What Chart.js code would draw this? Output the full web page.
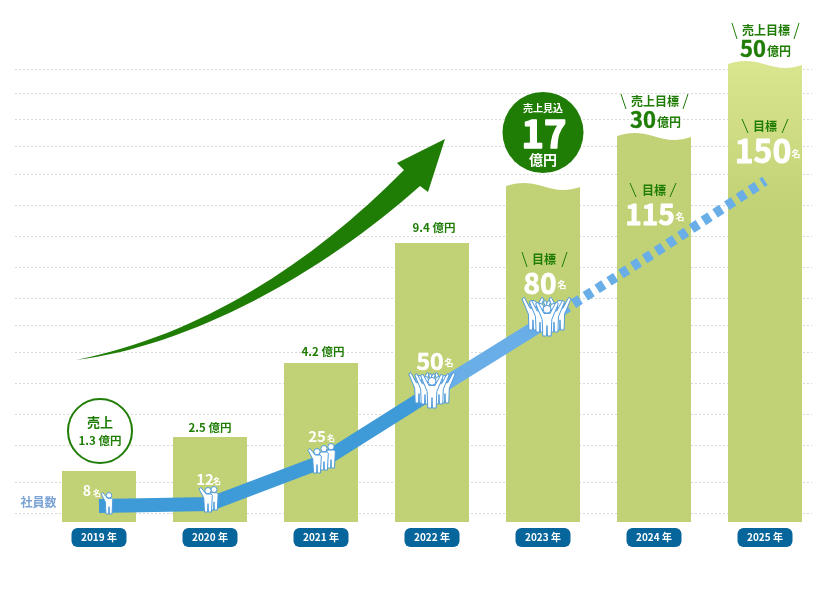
<!DOCTYPE html>
<html lang="ja">
<head>
<meta charset="utf-8">
<title>売上と社員数の推移</title>
<script src="https://cdn.jsdelivr.net/npm/chart.js@4"></script>
<style>
	html, body { margin: 0; padding: 0; background: #fff; }
	canvas { display: block; }
</style>
</head>
<body>
<canvas id="growthChart" width="830" height="590"></canvas>
<script>
"use strict";

// values
var years = ["2019 年", "2020 年", "2021 年", "2022 年", "2023 年", "2024 年", "2025 年"];
var salesOku = ["1.3", "2.5", "4.2", "9.4", "17", "30", "50"];
var staffCount = ["8", "12", "25", "50", "80", "115", "150"];
// the bars and the staff line are not to scale with the numbers, so their heights are read separately
var barLevels = [51, 85, 159, 279, 339, 389, 461];
var staffLevels = [16, 18, 60, 130, 199, 269, 341];
var gridLevels = [453, 429, 403, 376, 348, 317, 286, 255, 224, 197, 170, 139, 108, 77, 40, 9];

var GREEN = "#1f7d06";
var FONT = '"Noto Sans CJK JP", "Noto Sans", sans-serif';

function txt(ctx, str, x, y, size, color, heavy) {
	ctx.font = "bold " + size + "px " + FONT;
	ctx.fillStyle = color;
	ctx.textAlign = "center";
	ctx.textBaseline = "middle";
	ctx.fillText(str, x, y);
	if (heavy) {
		ctx.strokeStyle = color;
		ctx.lineWidth = heavy;
		ctx.lineJoin = "round";
		ctx.strokeText(str, x, y);
	}
}

function slashes(ctx, x, y, half, h, lean) {
	ctx.strokeStyle = GREEN;
	ctx.lineWidth = 1;
	ctx.beginPath();
	ctx.moveTo(x - half, y - h / 2);
	ctx.lineTo(x - half + lean, y + h / 2);
	ctx.moveTo(x + half, y - h / 2);
	ctx.lineTo(x + half - lean, y + h / 2);
	ctx.stroke();
}

// little white figure, x/y is between the feet
function person(ctx, x, y, s, pose) {
	ctx.save();
	ctx.translate(x, y);
	ctx.scale(s, s);
	ctx.fillStyle = "#fff";
	ctx.strokeStyle = "#4f9bdc";
	ctx.lineWidth = 1 / s;
	ctx.lineJoin = "round";
	ctx.beginPath();
	if (pose === "cheer") {
		ctx.moveTo(-2, -15);
		ctx.lineTo(-6, -22.5);
		ctx.lineTo(-7.6, -21.6);
		ctx.lineTo(-3.2, -11);
		ctx.lineTo(-2.8, 0);
		ctx.lineTo(-0.3, 0);
		ctx.lineTo(0, -7);
		ctx.lineTo(0.3, 0);
		ctx.lineTo(2.8, 0);
		ctx.lineTo(3.2, -11);
		ctx.lineTo(7.6, -21.6);
		ctx.lineTo(6, -22.5);
		ctx.lineTo(2, -15);
	} else {
		if (pose === "wave") {
			ctx.moveTo(-1.5, -15);
			ctx.lineTo(-6, -20.5);
			ctx.lineTo(-7.4, -19);
			ctx.lineTo(-3.5, -11.5);
		} else {
			ctx.moveTo(-2.5, -15);
			ctx.lineTo(-3.6, -14);
		}
		ctx.lineTo(-2.9, 0);
		ctx.lineTo(-0.3, 0);
		ctx.lineTo(0, -7);
		ctx.lineTo(0.3, 0);
		ctx.lineTo(2.9, 0);
		ctx.lineTo(3.6, -14);
		ctx.lineTo(2.5, -15);
	}
	ctx.closePath();
	ctx.fill();
	ctx.stroke();
	ctx.beginPath();
	ctx.arc(0, -17.8, 2.6, 0, Math.PI * 2);
	ctx.fill();
	ctx.stroke();
	ctx.restore();
}

// figures per year: dx, dy from the line point, scale (back ones first)
var crews = [
	[[10, 8, 1.05, "wave"]],
	[[4, 6, 1.15, "stand"], [-2, 8, 1.2, "wave"]],
	[[10, 6, 1.2, "stand"], [3, 8, 1.2, "stand"], [-4, 11, 1.2, "wave"]],
	[[13, 11, 1.35, "cheer"], [-13, 11, 1.35, "cheer"], [7, 12, 1.35, "cheer"], [-7, 12, 1.35, "cheer"], [0, 16, 1.5, "cheer"]],
	[[17, 7, 1.45, "cheer"], [-10, 7, 1.45, "cheer"], [11, 9, 1.4, "cheer"], [-3, 9, 1.4, "cheer"], [4, 13, 1.5, "cheer"]]
];

var decoration = {
	id: "decoration",

	beforeDraw: function (chart) {
		var ctx = chart.ctx, y = chart.scales.y, x = chart.scales.x;
		ctx.save();
		// dotted guide lines
		ctx.strokeStyle = "#d9d9d9";
		ctx.lineWidth = 1;
		ctx.setLineDash([2, 2]);
		gridLevels.forEach(function (lv) {
			var py = Math.round(y.getPixelForValue(lv)) + 0.5;
			ctx.beginPath();
			ctx.moveTo(15, py);
			ctx.lineTo(812, py);
			ctx.stroke();
		});
		ctx.setLineDash([]);
		// year pills under the tick labels
		years.forEach(function (yr, i) {
			ctx.fillStyle = "#06659b";
			ctx.beginPath();
			ctx.roundRect(x.getPixelForTick(i) - 27.5, 528, 55, 19, 6);
			ctx.fill();
		});
		// big arrow
		ctx.fillStyle = GREEN;
		ctx.beginPath();
		ctx.moveTo(76, 360);
		ctx.bezierCurveTo(200, 335, 310, 265, 404, 170);
		ctx.lineTo(397, 163);
		ctx.lineTo(445, 139);
		ctx.lineTo(428, 192);
		ctx.lineTo(420, 186);
		ctx.bezierCurveTo(320, 275, 190, 346, 76, 360);
		ctx.closePath();
		ctx.fill();
		ctx.restore();
	},

	// wavy tops of the three forecast bars
	beforeDatasetDraw: function (chart, args) {
		if (args.index !== 0) return;
		var ctx = chart.ctx;
		ctx.save();
		ctx.beginPath();
		args.meta.data.forEach(function (bar, i) {
			var l = bar.x - bar.width / 2, r = bar.x + bar.width / 2, t = bar.y, b = bar.base;
			if (i < 4) {
				ctx.rect(l, t, r - l, b - t);
				return;
			}
			ctx.moveTo(l, b);
			ctx.lineTo(l, t + 3);
			ctx.bezierCurveTo(l + 12, t - 1, l + 23, t - 1, l + 36, t + 3);
			ctx.bezierCurveTo(l + 48, t + 7, l + 60, t + 9, r, t + 4);
			ctx.lineTo(r, b);
			ctx.closePath();
		});
		ctx.clip();
	},
	afterDatasetDraw: function (chart, args) {
		if (args.index === 0) chart.ctx.restore();
	},

	afterDatasetsDraw: function (chart) {
		var ctx = chart.ctx;
		var bars = chart.getDatasetMeta(0).data;
		var pts = chart.getDatasetMeta(1).data;
		ctx.save();

		crews.forEach(function (crew, i) {
			crew.forEach(function (p) {
				person(ctx, pts[i].x + p[0], pts[i].y + p[1], p[2], p[3]);
			});
		});

		// staff numbers
		txt(ctx, staffCount[0], bars[0].x - 12, 491, 14, "#fff");
		txt(ctx, "名", bars[0].x - 2, 493, 8, "#fff");
		txt(ctx, staffCount[1], bars[1].x - 5, 479, 15, "#fff");
		txt(ctx, "名", bars[1].x + 7, 481, 8, "#fff");
		txt(ctx, staffCount[2], bars[2].x - 4, 436, 15, "#fff");
		txt(ctx, "名", bars[2].x + 10, 438, 8, "#fff");
		txt(ctx, staffCount[3], bars[3].x - 2, 361, 23, "#fff", 0.6);
		txt(ctx, "名", bars[3].x + 17, 363, 9, "#fff");
		txt(ctx, staffCount[4], bars[4].x - 3, 283, 28, "#fff", 0.8);
		txt(ctx, "名", bars[4].x + 19, 285, 9, "#fff");
		txt(ctx, staffCount[5], bars[5].x - 4, 214, 28, "#fff", 0.8);
		txt(ctx, "名", bars[5].x + 26, 217, 9, "#fff");
		txt(ctx, staffCount[6], bars[6].x - 2, 151, 32, "#fff", 0.8);
		txt(ctx, "名", bars[6].x + 31, 154, 9, "#fff");

		// 目標 tags
		txt(ctx, "目標", bars[4].x + 1, 259, 12, GREEN);
		slashes(ctx, bars[4].x + 1.5, 259.5, 22.5, 15, 5);
		txt(ctx, "目標", bars[5].x, 190, 12, GREEN);
		slashes(ctx, bars[5].x - 1, 190, 23, 14, 6);
		txt(ctx, "目標", bars[6].x, 126, 12, GREEN);
		slashes(ctx, bars[6].x, 126, 23, 14, 6);

		// sales, first year in an outlined circle
		ctx.strokeStyle = GREEN;
		ctx.fillStyle = "#fff";
		ctx.lineWidth = 2;
		ctx.beginPath();
		ctx.arc(bars[0].x + 1, 431, 32, 0, Math.PI * 2);
		ctx.fill();
		ctx.stroke();
		txt(ctx, "売上", bars[0].x + 1, 422, 13, GREEN);
		txt(ctx, salesOku[0] + " 億円", bars[0].x + 1, 441, 11.5, GREEN);

		txt(ctx, salesOku[1] + " 億円", bars[1].x, 428, 11.5, GREEN);
		txt(ctx, salesOku[2] + " 億円", bars[2].x + 2, 352, 11.5, GREEN);
		txt(ctx, salesOku[3] + " 億円", bars[3].x + 2, 228, 11.5, GREEN);

		// 2023 forecast badge
		ctx.fillStyle = GREEN;
		ctx.beginPath();
		ctx.arc(bars[4].x, 132.5, 40.5, 0, Math.PI * 2);
		ctx.fill();
		txt(ctx, "売上見込", bars[4].x, 108, 10, "#fff");
		txt(ctx, salesOku[4], bars[4].x + 1, 134, 38, "#fff", 1.5);
		txt(ctx, "億円", bars[4].x, 160, 14, "#fff");

		// targets
		txt(ctx, "売上目標", bars[5].x + 1, 101, 12, GREEN);
		slashes(ctx, bars[5].x + 0.5, 101.5, 33.5, 15, 5);
		txt(ctx, salesOku[5], bars[5].x - 11, 120, 22, GREEN, 0.4);
		txt(ctx, "億円", bars[5].x + 15, 122, 12, GREEN);
		txt(ctx, "売上目標", bars[6].x + 1, 30, 12, GREEN);
		slashes(ctx, bars[6].x + 0.5, 31, 33.5, 16, 5);
		txt(ctx, salesOku[6], bars[6].x - 12, 49, 22, GREEN, 0.4);
		txt(ctx, "億円", bars[6].x + 14, 51, 12, GREEN);

		txt(ctx, "社員数", 38.5, 502, 12, "#7ba3d4");
		ctx.restore();
	}
};

var ctx = document.getElementById("growthChart");
var growthChart = new Chart(ctx, {
	type: "bar",
	data: {
		labels: years,
		datasets: [
			{
				type: "bar",
				data: barLevels,
				order: 3,
				clip: false,
				barPercentage: 74 / 111,
				categoryPercentage: 1,
				backgroundColor: function (c) {
					if (c.dataIndex !== 6 || !c.chart.chartArea) return "#c1d175";
					var g = c.chart.ctx.createLinearGradient(0, 60, 0, 210);
					g.addColorStop(0, "#dbe690");
					g.addColorStop(1, "#c1d175");
					return g;
				}
			},
			{
				type: "line",
				data: staffLevels.map(function (v, i) { return i <= 4 ? v : null; }),
				order: 1,
				clip: false,
				borderWidth: 14,
				borderCapStyle: "butt",
				borderJoinStyle: "miter",
				pointRadius: 0,
				borderColor: function (c) {
					if (!c.chart.chartArea) return "#3f9ad8";
					var g = c.chart.ctx.createLinearGradient(415, 0, 445, 0);
					g.addColorStop(0, "#3f9ad8");
					g.addColorStop(1, "#6aaee8");
					return g;
				}
			},
			{
				type: "line",
				data: staffLevels.map(function (v, i) { return i >= 4 ? v : null; }),
				order: 2,
				clip: false,
				borderWidth: 10,
				borderDash: [8, 6],
				borderDashOffset: 6,
				borderCapStyle: "butt",
				borderColor: "#6aaee8",
				pointRadius: 0
			}
		]
	},
	options: {
		responsive: false,
		animation: false,
		layout: { padding: { left: 43.5, right: 9.5, top: 0, bottom: 0 } },
		plugins: { legend: { display: false }, tooltip: { enabled: false }, title: { display: false } },
		scales: {
			x: {
				grid: { display: false },
				border: { display: false },
				ticks: {
					color: "#fff",
					padding: 1,
					maxRotation: 0,
					font: { family: FONT, size: 10, weight: "bold" }
				},
				afterFit: function (scale) { scale.height = 68; }
			},
			y: { display: false, min: 0, max: 522 }
		}
	},
	plugins: [decoration]
});
</script>
</body>
</html>
